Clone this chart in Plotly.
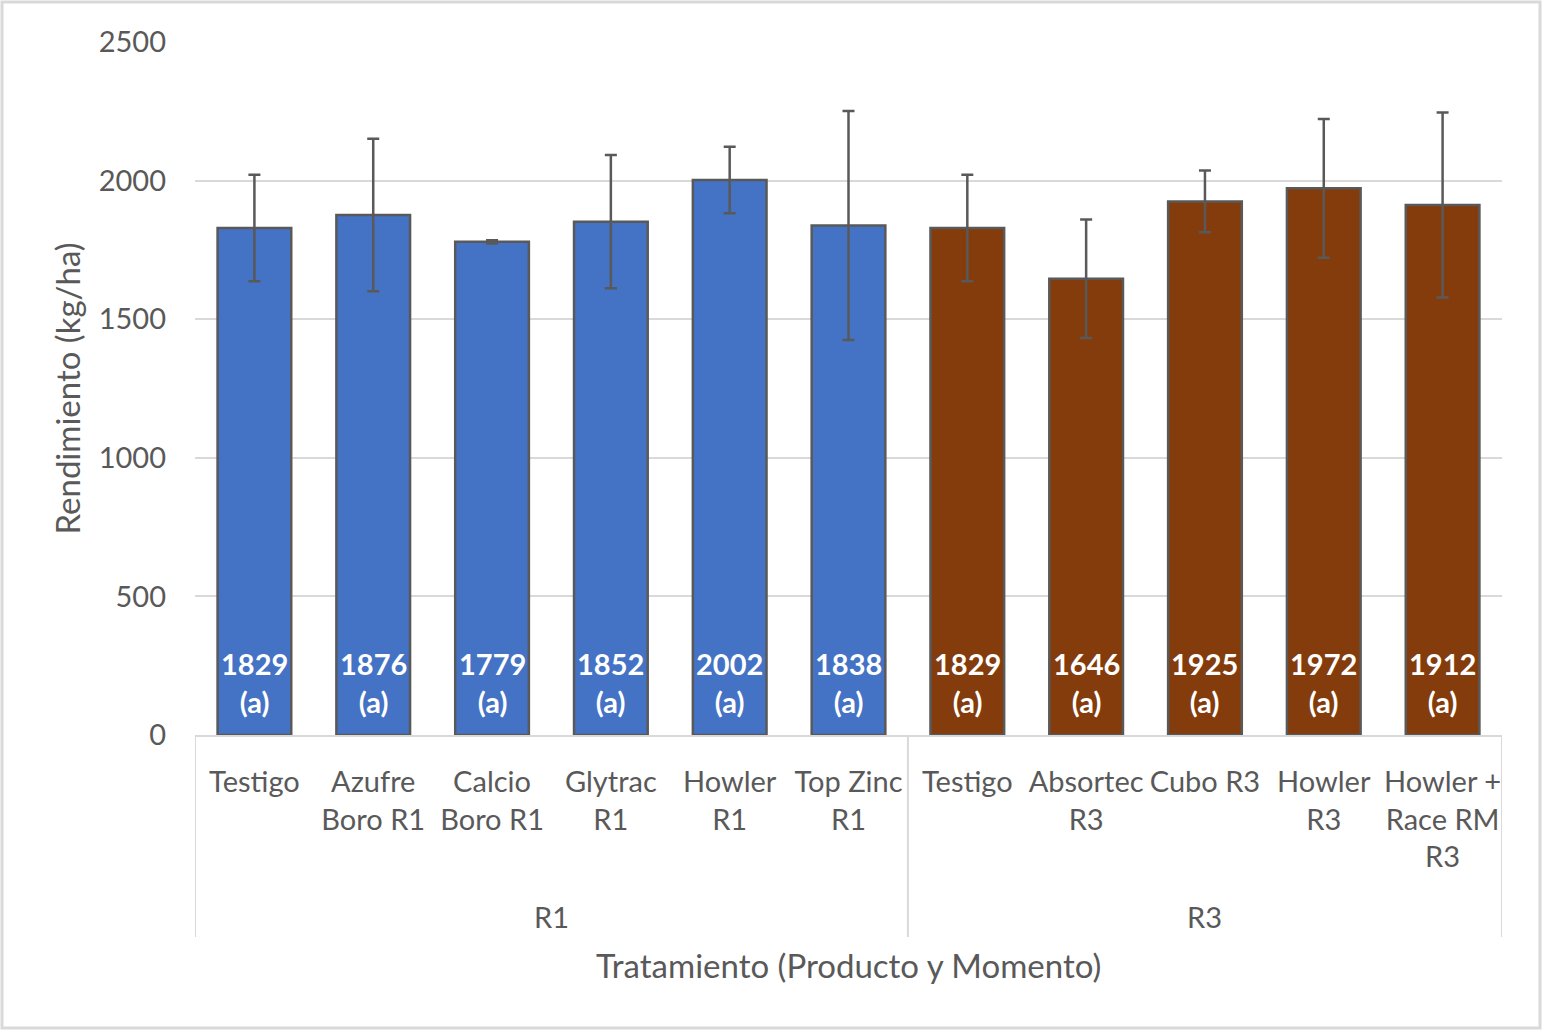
import plotly.graph_objects as go

groups = ["R1", "R3"]
labels_r1 = ["Testigo", "Azufre<br>Boro R1", "Calcio<br>Boro R1", "Glytrac<br>R1", "Howler<br>R1", "Top Zinc<br>R1"]
labels_r3 = ["Testigo", "Absortec<br>R3", "Cubo R3", "Howler<br>R3", "Howler +<br>Race RM<br>R3"]
values_r1 = [1829, 1876, 1779, 1852, 2002, 1838]
values_r3 = [1829, 1646, 1925, 1972, 1912]
errors_r1 = [192, 275, 6, 240, 120, 413]
errors_r3 = [192, 214, 111, 250, 334]
letters_r1 = ["a"] * 6
letters_r3 = ["a"] * 5
y_ticks = [0, 500, 1000, 1500, 2000, 2500]

FONT = "Lato"
GRAY = "#595959"
LIGHT = "#d9d9d9"
TICK_SIZE = 29
TITLE_SIZE = 33

W, H = 1542, 1030
L, R, T, B = 195, 40, 42, 295
pw, ph = W - L - R, H - T - B

x_r1 = list(range(len(values_r1)))
x_r3 = list(range(len(values_r1), len(values_r1) + len(values_r3)))

fig = go.Figure()
for xs, vals, errs, color in [
    (x_r1, values_r1, errors_r1, "#4472C4"),
    (x_r3, values_r3, errors_r3, "#843C0C"),
]:
    fig.add_trace(go.Bar(
        x=xs, y=vals, width=0.62,
        marker=dict(color=color, line=dict(color=GRAY, width=2.5)),
        error_y=dict(type="data", array=errs, visible=True, color=GRAY, thickness=2.5, width=6),
        showlegend=False, hoverinfo="skip",
    ))

all_x = x_r1 + x_r3
all_vals = values_r1 + values_r3
all_letters = letters_r1 + letters_r3
for xv, v, l in zip(all_x, all_vals, all_letters):
    fig.add_annotation(x=xv, y=0, xref="x", yref="y", yanchor="bottom", yshift=14,
                       text=f"<b>{v}</b><br><b>({l})</b>", showarrow=False,
                       font=dict(family=FONT, size=TICK_SIZE, color="white", weight="bold"))

all_labels = labels_r1 + labels_r3
n = len(all_labels)

fig.update_layout(
    width=W, height=H,
    margin=dict(l=L, r=R, t=T, b=B),
    paper_bgcolor="white", plot_bgcolor="white",
    font=dict(family=FONT, color=GRAY, size=TICK_SIZE),
    xaxis=dict(
        tickmode="array", tickvals=list(range(n)), ticktext=all_labels,
        range=[-0.5, n - 0.5], showgrid=False, zeroline=False,
        showline=True, linecolor=LIGHT, linewidth=2,
        ticks="", ticklabelstandoff=20,
        tickfont=dict(family=FONT, size=TICK_SIZE, color=GRAY),
    ),
    yaxis=dict(
        range=[0, 2500], tickvals=y_ticks, showgrid=True, gridcolor=LIGHT, gridwidth=2,
        zeroline=False, showline=False, ticks="", ticklabelstandoff=28,
        tickfont=dict(family=FONT, size=TICK_SIZE, color=GRAY),
        title=dict(text="Rendimiento (kg/ha)", standoff=8,
                   font=dict(family=FONT, size=TITLE_SIZE, color=GRAY)),
    ),
)

# category dividers below axis
div_bottom = -(937 - 735) / ph
for xv in [-0.5, len(values_r1) - 0.5, n - 0.5]:
    fig.add_shape(type="line", xref="x", yref="paper", x0=xv, x1=xv, y0=0, y1=div_bottom,
                  line=dict(color=LIGHT, width=2))

# group labels
grp_centers = [(len(values_r1) - 1) / 2, len(values_r1) + (len(values_r3) - 1) / 2]
for g, c in zip(groups, grp_centers):
    fig.add_annotation(x=c, xref="x", y=-(917 - 735) / ph, yref="paper", text=g, showarrow=False,
                       font=dict(family=FONT, size=TICK_SIZE, color=GRAY), yanchor="middle")

# x axis title
fig.add_annotation(x=(848 - L) / pw, xref="paper", y=-(965 - 735) / ph, yref="paper",
                   text="Tratamiento (Producto y Momento)", showarrow=False,
                   font=dict(family=FONT, size=TITLE_SIZE, color=GRAY), xanchor="center", yanchor="middle")

# outer frame
fig.add_shape(type="rect", xref="paper", yref="paper",
              x0=-(L - 2) / pw, x1=1 + (R - 2) / pw, y0=-(B - 2) / ph, y1=1 + (T - 2) / ph,
              line=dict(color=LIGHT, width=3), layer="below")

fig.write_html("out.html", config={"displayModeBar": False},
               post_script="document.body.style.margin='0px';")
